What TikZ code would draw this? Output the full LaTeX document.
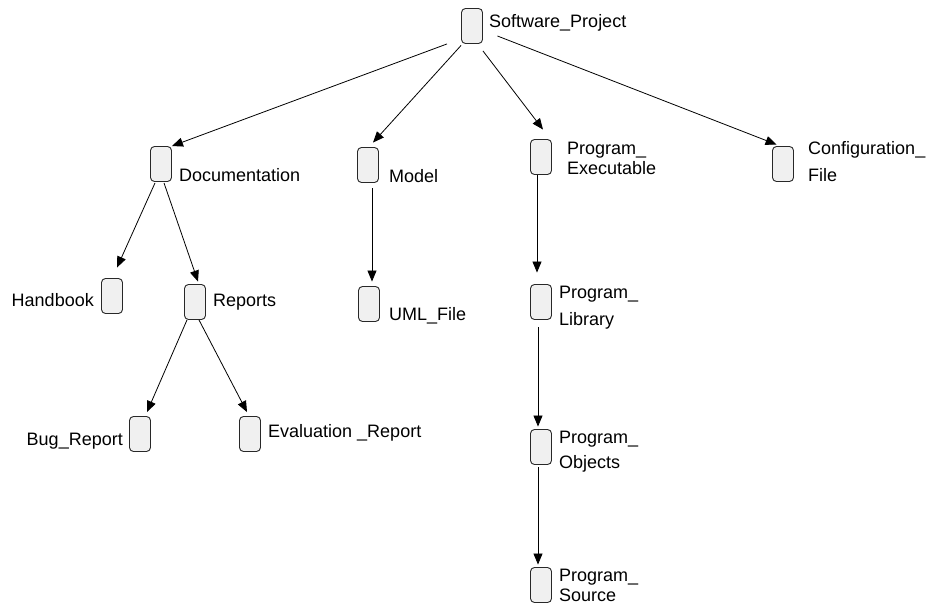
\documentclass[tikz,border=0pt]{standalone}
\usepackage{fontspec}
\setmainfont{Liberation Sans}
\usetikzlibrary{arrows.meta}
\definecolor{boxfill}{RGB}{240,240,240}
\definecolor{boxline}{RGB}{40,40,40}
\tikzset{
  item/.style={draw=boxline, fill=boxfill, line width=0.9pt, rounded corners=4pt,
    minimum width=21pt, minimum height=35pt, inner sep=0pt},
  lbl/.style={inner sep=0pt, align=left, font=\fontsize{18}{20}\selectfont},
  link/.style={line width=0.8pt, -{Triangle[length=11pt,width=9pt]}}
}
\begin{document}
\begin{tikzpicture}[x=1pt,y=-1pt]
\useasboundingbox (0,0) rectangle (926,604);

% entity boxes
\node[item] (sp)    at (472,26)  {};
\node[item] (doc)   at (161,164) {};
\node[item] (model) at (368,165) {};
\node[item] (pe)    at (541,157) {};
\node[item] (cf)    at (783,164) {};
\node[item] (hb)    at (112,296) {};
\node[item] (rp)    at (195,302) {};
\node[item] (uml)   at (369,304) {};
\node[item] (pl)    at (541,302) {};
\node[item] (bug)   at (140,434) {};
\node[item] (ev)    at (250,434) {};
\node[item] (po)    at (541,447) {};
\node[item] (ps)    at (541,585) {};

% labels (base anchor sits on the last line)
\node[lbl, anchor=base west] (tsp)    at (489,28)  {Software\_Project};
\node[lbl, anchor=base west] (tdoc)   at (179,182) {Documentation};
\node[lbl, anchor=base west] (tmodel) at (389,183) {Model};
\node[lbl, anchor=base west] (tpe)    at (567,175) {Program\_\\Executable};
\node[lbl, anchor=base west] (tcf)    at (808,182) {Configuration\_\\[7pt]File};
\node[lbl, anchor=base east] (thb)    at (94,306)  {Handbook};
\node[lbl, anchor=base west] (trp)    at (213,306) {Reports};
\node[lbl, anchor=base west] (tuml)   at (389,320) {UML\_File};
\node[lbl, anchor=base west] (tpl)    at (559,325) {Program\_\\[7pt]Library};
\node[lbl, anchor=base east] (tbug)   at (123,445) {Bug\_Report};
\node[lbl, anchor=base west] (tev)    at (268,437) {Evaluation \_Report};
\node[lbl, anchor=base west] (tpo)    at (559,468) {Program\_\\[5pt]Objects};
\node[lbl, anchor=base west] (tps)    at (559,601) {Program\_\\Source};

% hierarchy links
\draw[link] ([xshift=-25pt]sp.south) -- (doc.north east);
\draw[link] ([yshift=-1.5pt]sp.south west) -- ([xshift=5pt,yshift=4.5pt]model.north);
\draw[link] ([yshift=-7pt]sp.south east) -- ([xshift=2pt,yshift=9.5pt]pe.north);
\draw[link] ([xshift=14.5pt,yshift=-10pt]sp.east) -- ([xshift=4.5pt,yshift=1.5pt]cf.north west);
\draw[link] ([xshift=-6pt,yshift=-1pt]doc.south) -- ([xshift=5pt,yshift=10.5pt]hb.north);
\draw[link] ([xshift=3pt,yshift=-1pt]doc.south) -- ([xshift=3pt,yshift=2.5pt]rp.north);
\draw[link] ([xshift=-8pt]rp.south) -- ([xshift=7pt,yshift=4pt]bug.north);
\draw[link] ([xshift=4pt]rp.south) -- ([xshift=-3pt,yshift=4pt]ev.north);
\draw[link] ([xshift=4pt,yshift=-5.5pt]model.south) -- ([xshift=3pt,yshift=4.5pt]uml.north);
\draw[link] ([xshift=-4pt]pe.south) -- ([xshift=-4pt,yshift=11.5pt]pl.north);
\draw[link] ([xshift=-3pt,yshift=-7.5pt]pl.south) -- ([xshift=-3pt,yshift=2.5pt]po.north);
\draw[link] ([xshift=-3pt,yshift=-2.5pt]po.south) -- ([xshift=-3pt,yshift=2.5pt]ps.north);
\end{tikzpicture}
\end{document}
